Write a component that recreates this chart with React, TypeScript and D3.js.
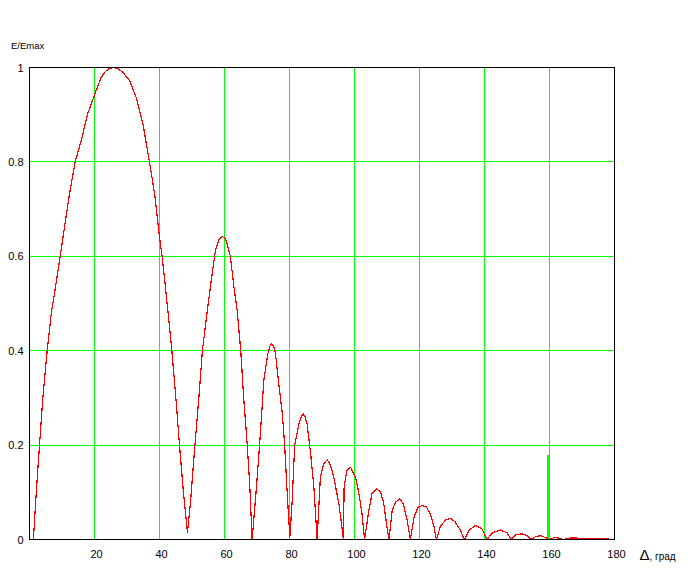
import React from "react";
import * as d3 from "d3";

const W = 694;
const H = 581;

// Angle Δ (degrees) and normalized field E/Emax
const angleDeg = [
  1.2, 2.05, 3.08, 4.1, 5.44, 6.67, 8.0, 9.44, 10.77, 12.3, 14.05, 15.9, 17.9, 20.1, 22.05, 23.2, 24.1, 25.1, 26.1,
  27.3, 28.7, 30.8, 32.8, 34.9, 36.9, 38.5, 40.0, 40.8, 42.05, 43.8, 45.1, 46.15, 47.4, 48.6,
  49.5, 50.9, 52.1, 53.2, 54.7, 56.2, 57.2, 58.3, 59.3, 60.2, 60.8, 61.8, 62.9, 63.9, 65.0, 65.9, 67.0, 67.8, 68.5,
  69.7, 70.8, 72.1, 73.3, 74.0, 74.5, 75.1, 75.7, 76.7, 77.8, 78.5, 79.3, 80.1,
  80.8, 81.6, 82.9, 83.6, 84.2, 84.8, 85.4, 86.5, 87.5, 88.5,
  89.5, 90.5, 91.6, 92.6, 93.6, 95.2, 96.6,
  96.8, 97.6, 98.8, 100.3, 101.3, 102.3, 103.1,
  104.4, 105.4, 106.8, 108.0, 109.0, 110.0, 110.6,
  111.6, 112.6, 113.9, 115.0, 116.2, 117.2,
  118.3, 119.5, 120.8, 122.1, 123.4, 124.4, 125.2,
  126.5, 128.0, 129.5, 131.0, 132.6, 133.8,
  135.2, 137.2, 139.2, 140.8,
  142.4, 144.9, 147.0, 148.2,
  149.5, 151.6, 153.1, 154.2,
  155.7, 157.2, 158.8, 159.8,
  161.4, 162.9, 164.3,
  166.4, 168.5, 169.5, 178.2,
];

const fieldRatio = [
  0, 0.097, 0.2, 0.3, 0.4, 0.478, 0.535, 0.6, 0.662, 0.732, 0.8, 0.845, 0.902, 0.944, 0.979, 0.99, 0.996, 0.999, 1.0,
  0.997, 0.99, 0.972, 0.937, 0.881, 0.8, 0.732, 0.64, 0.6, 0.52, 0.4, 0.294, 0.2, 0.097, 0.015,
  0.076, 0.2, 0.3, 0.4, 0.485, 0.563, 0.612, 0.635, 0.642, 0.638, 0.626, 0.6, 0.535, 0.485, 0.4, 0.3, 0.2, 0.111, 0,
  0.1, 0.2, 0.337, 0.393, 0.41, 0.415, 0.41, 0.393, 0.33, 0.266, 0.2, 0.097, 0.005,
  0.078, 0.2, 0.245, 0.26, 0.266, 0.26, 0.245, 0.182, 0.111, 0,
  0.132, 0.16, 0.169, 0.158, 0.132, 0.076, 0,
  0.11, 0.145, 0.153, 0.132, 0.1, 0.055, 0,
  0.061, 0.097, 0.107, 0.101, 0.076, 0.026, 0,
  0.061, 0.079, 0.086, 0.076, 0.041, 0,
  0.047, 0.068, 0.072, 0.069, 0.053, 0.029, 0,
  0.029, 0.041, 0.045, 0.037, 0.019, 0,
  0.019, 0.03, 0.023, 0,
  0.014, 0.02, 0.014, 0,
  0.01, 0.012, 0.008, 0,
  0.006, 0.008, 0.004, 0,
  0.004, 0.003, 0,
  0.003, 0.003, 0.001, 0.001,
];

const xTicks = [20, 40, 60, 80, 100, 120, 140, 160, 180];
const yTicks = [0, 0.2, 0.4, 0.6, 0.8, 1];
const yTickLabels = ["0", "0.2", "0.4", "0.6", "0.8", "1"];

// green marker line
const markerAngle = [159.6];
const markerValue = [0.18];

export default function App() {
  const x = d3.scaleLinear().domain([0, 180]).range([29.5, 614.5]);
  const y = d3.scaleLinear().domain([0, 1]).range([539.5, 67.5]);

  const pts: [number, number][] = angleDeg.map((a, i) => [a, fieldRatio[i]]);
  const line = d3
    .line<[number, number]>()
    .x((d) => x(d[0]))
    .y((d) => y(d[1]))
    .curve(d3.curveLinear);

  const font = "'Liberation Sans', Arial, sans-serif";
  const green = "#00ff00";

  return (
    <svg
      width={W}
      height={H}
      style={{ position: "absolute", left: 0, top: 0, background: "#fff" }}
    >
      <rect x={0} y={0} width={W} height={H} fill="#fff" />
      {/* grid */}
      {xTicks
        .filter((t) => t < 180)
        .map((t) => (
          <line
            key={"gx" + t}
            x1={Math.round(x(t) - 0.5) + 0.5}
            x2={Math.round(x(t) - 0.5) + 0.5}
            y1={y(1)}
            y2={y(0)}
            stroke={green}
            strokeWidth={1}
            shapeRendering="crispEdges"
          />
        ))}
      {yTicks
        .filter((t) => t > 0 && t < 1)
        .map((t) => (
          <line
            key={"gy" + t}
            x1={x(0)}
            x2={x(180)}
            y1={Math.round(y(t) - 0.5) + 0.5}
            y2={Math.round(y(t) - 0.5) + 0.5}
            stroke={green}
            strokeWidth={1}
            shapeRendering="crispEdges"
          />
        ))}
      {/* marker */}
      {markerAngle.map((a, i) => (
        <line
          key={"m" + i}
          x1={Math.round(x(a))}
          x2={Math.round(x(a))}
          y1={y(markerValue[i])}
          y2={y(0)}
          stroke={green}
          strokeWidth={2}
          shapeRendering="crispEdges"
        />
      ))}
      {/* curve */}
      <path
        d={line(pts) || ""}
        fill="none"
        stroke="#ff0000"
        strokeWidth={1.2}
        strokeLinejoin="round"
        shapeRendering="crispEdges"
      />
      {/* frame */}
      <rect
        x={x(0)}
        y={y(1)}
        width={x(180) - x(0)}
        height={y(0) - y(1)}
        fill="none"
        stroke="#000"
        strokeWidth={1}
        shapeRendering="crispEdges"
      />
      {/* y tick labels */}
      {yTicks.map((t, i) => (
        <text
          key={"yl" + t}
          x={23.5}
          y={y(t) + 4}
          textAnchor="end"
          fontFamily={font}
          fontSize={11}
          fill="#000"
        >
          {yTickLabels[i]}
        </text>
      ))}
      {/* x tick labels */}
      {xTicks.map((t) => (
        <text
          key={"xl" + t}
          x={x(t) + 2}
          y={557.5}
          textAnchor="middle"
          fontFamily={font}
          fontSize={11}
          fill="#000"
        >
          {t}
        </text>
      ))}
      {/* axis titles */}
      <text x={11} y={49} fontFamily={font} fontSize={9.5} fill="#000">
        E/Emax
      </text>
      <text x={639.5} y={559.5} fontFamily={font} fill="#000">
        <tspan fontSize={15}>Δ</tspan>
        <tspan fontSize={10}>, град</tspan>
      </text>
    </svg>
  );
}
